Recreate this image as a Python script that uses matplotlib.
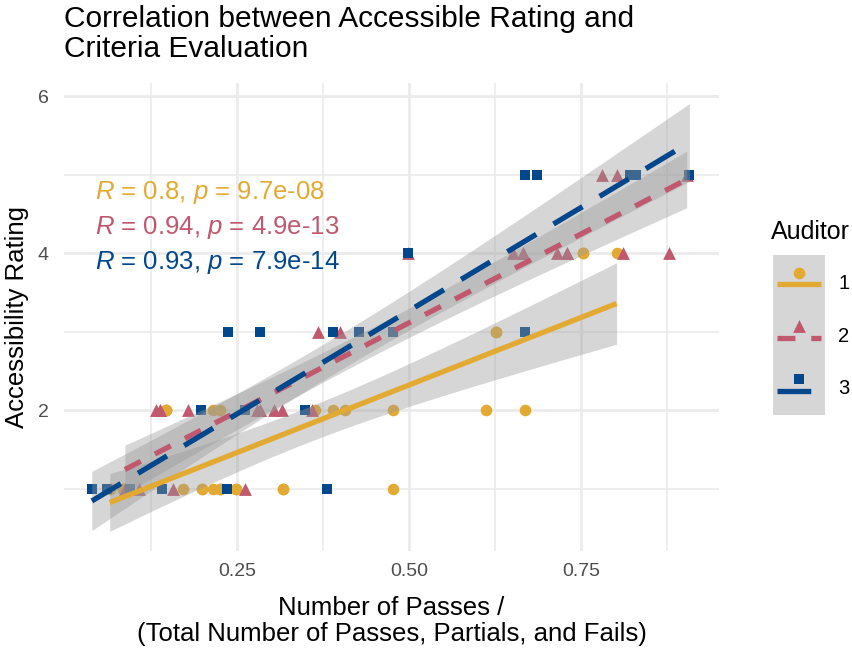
# correlacion entre la calificacion de accesibilidad y la evaluacion de criterios
import numpy as np
import matplotlib.pyplot as plt
from matplotlib.ticker import FixedLocator

plt.rcParams['font.family'] = ['Liberation Sans', 'DejaVu Sans']
plt.rcParams['mathtext.fontset'] = 'custom'
plt.rcParams['mathtext.rm'] = 'Liberation Sans'
plt.rcParams['mathtext.it'] = 'Liberation Sans:italic'

# datos: proporcion de aprobados y calificacion por auditor
# (algunos puntos se repiten porque quedan tapados en el grafico)
ratio_1 = [0.065, 0.084, 0.084, 0.172, 0.199, 0.199, 0.215, 0.225, 0.225, 0.249, 0.249,
           0.317, 0.317, 0.477,
           0.147, 0.147, 0.147, 0.215, 0.225, 0.363, 0.390, 0.407, 0.477, 0.612, 0.669,
           0.626, 0.626,
           0.753, 0.753, 0.802]
rating_1 = [1, 1, 1, 1, 1, 1, 1, 1, 1, 1, 1,
            1, 1, 1,
            2, 2, 2, 2, 2, 2, 2, 2, 2, 2, 2,
            3, 3,
            4, 4, 4]

ratio_2 = [0.087, 0.108, 0.157, 0.262,
           0.132, 0.138, 0.138, 0.179, 0.279, 0.283, 0.283, 0.304, 0.315, 0.359,
           0.368, 0.400,
           0.499, 0.651, 0.666, 0.666, 0.715, 0.730, 0.730, 0.812, 0.878,
           0.781, 0.802, 0.904]
rating_2 = [1, 1, 1, 1,
            2, 2, 2, 2, 2, 2, 2, 2, 2, 2,
            3, 3,
            4, 4, 4, 4, 4, 4, 4, 4, 4,
            5, 5, 5]

ratio_3 = [0.039, 0.039, 0.061, 0.061, 0.094, 0.094, 0.141, 0.235, 0.235, 0.381,
           0.198, 0.198, 0.262, 0.349,
           0.237, 0.283, 0.390, 0.390, 0.427, 0.427, 0.477, 0.669,
           0.499,
           0.669, 0.686, 0.821, 0.821, 0.830, 0.830, 0.908]
rating_3 = [1, 1, 1, 1, 1, 1, 1, 1, 1, 1,
            2, 2, 2, 2,
            3, 3, 3, 3, 3, 3, 3, 3,
            4,
            5, 5, 5, 5, 5, 5, 5]

auditores = ['1', '2', '3']
etiquetas_cor = ['$R$ = 0.8, $p$ = 9.7e-08',
                 '$R$ = 0.94, $p$ = 4.9e-13',
                 '$R$ = 0.93, $p$ = 7.9e-14']

colores = ['#E3AA33', '#C0586E', '#02468B']
marcadores = ['o', '^', 's']
tam_marcador = [70, 85, 58]
estilos = ['-', (0, (3.4, 3.0)), (0, (6.4, 3.8))]

T95 = 2.05  # valor t aproximado para el intervalo de confianza del 95%


# funcion de ajuste lineal con banda de confianza
def ajuste_lineal(x, y, n_pts=100):
    x = np.asarray(x, dtype=float)
    y = np.asarray(y, dtype=float)
    n = len(x)
    b, a = np.polyfit(x, y, 1)
    resid = y - (a + b * x)
    s = np.sqrt(np.sum(resid ** 2) / (n - 2))
    sxx = np.sum((x - x.mean()) ** 2)
    xs = np.linspace(x.min(), x.max(), n_pts)
    ys = a + b * xs
    se = s * np.sqrt(1 / n + (xs - x.mean()) ** 2 / sxx)
    return xs, ys, se


grupos = [(ratio_1, rating_1), (ratio_2, rating_2), (ratio_3, rating_3)]

fig = plt.figure(figsize=(8.52, 6.48), dpi=100)
ax = fig.add_axes([64 / 852, 1 - 551 / 648, (719 - 64) / 852, (551 - 83) / 648])

for i, (x, y) in enumerate(grupos):
    ax.scatter(x, y, s=tam_marcador[i], marker=marcadores[i], color=colores[i],
               linewidths=0, zorder=2)

for i, (x, y) in enumerate(grupos):
    xs, ys, se = ajuste_lineal(x, y)
    ax.fill_between(xs, ys - T95 * se, ys + T95 * se, color='#999999', alpha=0.4,
                    linewidth=0, zorder=3)

for i, (x, y) in enumerate(grupos):
    xs, ys, se = ajuste_lineal(x, y)
    ax.plot(xs, ys, color=colores[i], linestyle=estilos[i], linewidth=3.8,
            solid_capstyle='butt', dash_capstyle='butt', zorder=4)

# etiquetas de correlacion
for i, txt in enumerate(etiquetas_cor):
    ax.text(0.0436, [4.77, 4.33, 3.89][i], txt, color=colores[i], fontsize=18.5,
            va='center', ha='left', zorder=5)

ax.set_xlim(-0.0015, 0.951)
ax.set_ylim(0.21, 6.17)
ax.xaxis.set_major_locator(FixedLocator([0.25, 0.5, 0.75]))
ax.xaxis.set_minor_locator(FixedLocator([0.125, 0.375, 0.625, 0.875]))
ax.yaxis.set_major_locator(FixedLocator([2, 4, 6]))
ax.yaxis.set_minor_locator(FixedLocator([1, 3, 5]))
ax.set_xticklabels(['0.25', '0.50', '0.75'])
ax.set_yticklabels(['2', '4', '6'])
ax.grid(True, which='major', color='#EBEBEB', linewidth=2.0, zorder=0)
ax.grid(True, which='minor', color='#EBEBEB', linewidth=1.2, zorder=0)
ax.set_axisbelow(True)
ax.tick_params(which='both', length=0, labelsize=14, labelcolor='#4D4D4D')
ax.tick_params(axis='x', pad=9)
ax.tick_params(axis='y', pad=11)
for sp in ax.spines.values():
    sp.set_visible(False)

ax.set_xlabel('Number of Passes /\n(Total Number of Passes, Partials, and Fails)',
              fontsize=18.5, labelpad=11, linespacing=1.1)
ax.set_ylabel('Accessibility Rating', fontsize=18.5, labelpad=6)
fig.text(64 / 852, 1 - 34 / 648, 'Correlation between Accessible Rating and\nCriteria Evaluation',
         fontsize=21.5, ha='left', va='center', linespacing=1.05)

# leyenda manual
fig.text(771 / 852, 1 - 232 / 648, 'Auditor', fontsize=18, ha='left', va='center')
lax = fig.add_axes([773 / 852, 1 - 415 / 648, 52 / 852, 160 / 648])
lax.set_xlim(0, 1)
lax.set_ylim(0, 3)
lax.set_facecolor('#D6D6D6')
lax.set_xticks([])
lax.set_yticks([])
for sp in lax.spines.values():
    sp.set_visible(False)
for i in range(3):
    yc = 2.5 - i
    lax.plot([0.08, 0.92], [yc - 0.05, yc - 0.05], color=colores[i], linestyle=estilos[i],
             linewidth=3.8, solid_capstyle='butt', dash_capstyle='butt')
    lax.scatter([0.5], [yc + 0.17], s=tam_marcador[i], marker=marcadores[i],
                color=colores[i], linewidths=0)
    fig.text(838 / 852, 1 - (283 + i * 53) / 648, auditores[i], fontsize=14.5,
             ha='left', va='center')

fig.savefig('out.png', dpi=100)
